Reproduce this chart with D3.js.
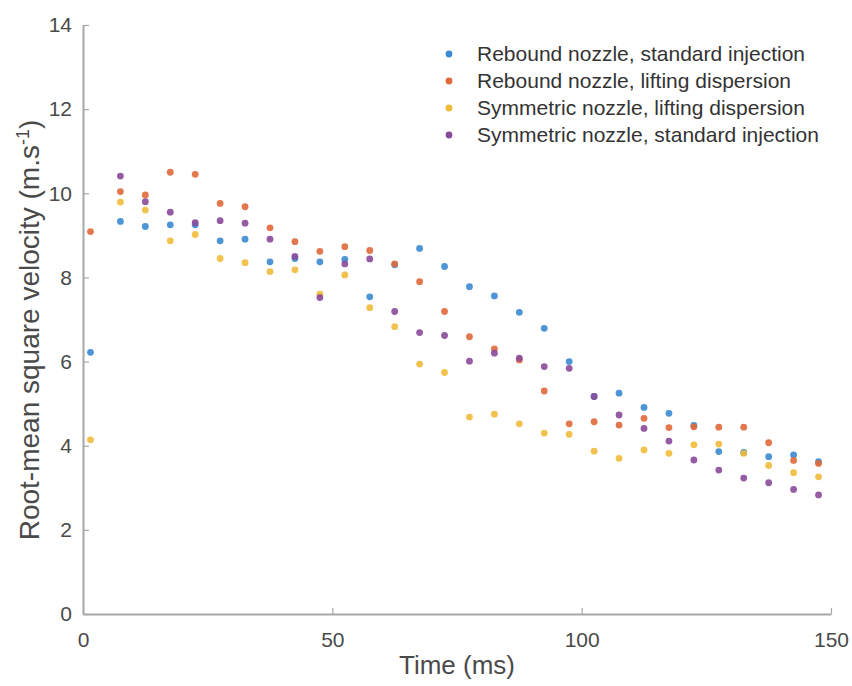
<!DOCTYPE html>
<html>
<head>
<meta charset="utf-8">
<script src="https://cdn.jsdelivr.net/npm/d3@7"></script>
<style>
  html, body { margin: 0; padding: 0; background: #fff; }
  svg { display: block; font-family: "Liberation Sans", Arial, sans-serif; }
</style>
</head>
<body>
<svg id="chart" width="852" height="686"></svg>
<script>
const times = [1.5, 7.5, 12.5, 17.5, 22.5, 27.5, 32.5, 37.5, 42.5, 47.5, 52.5, 57.5, 62.5, 67.5, 72.5,
               77.5, 82.5, 87.5, 92.5, 97.5, 102.5, 107.5, 112.5, 117.5, 122.5, 127.5, 132.5, 137.5, 142.5, 147.5];

const reboundStandard = [6.22, 9.33, 9.21, 9.25, 9.25, 8.87, 8.91, 8.37, 8.45, 8.37, 8.43, 7.54, 8.30, 8.69, 8.26,
                         7.78, 7.56, 7.17, 6.79, 6.00, 5.17, 5.25, 4.91, 4.77, 4.48, 3.86, 3.84, 3.74, 3.78, 3.62];
const reboundLifting  = [9.09, 10.04, 9.96, 10.50, 10.45, 9.76, 9.68, 9.18, 8.85, 8.62, 8.73, 8.64, 8.32, 7.90, 7.19,
                         6.59, 6.30, 6.04, 5.30, 4.52, 4.57, 4.49, 4.65, 4.43, 4.45, 4.44, 4.44, 4.07, 3.65, 3.58];
const symmetricLifting = [4.14, 9.79, 9.60, 8.87, 9.02, 8.45, 8.35, 8.14, 8.18, 7.60, 8.06, 7.28, 6.83, 5.94, 5.74,
                          4.68, 4.75, 4.52, 4.30, 4.27, 3.87, 3.70, 3.90, 3.82, 4.02, 4.04, 3.82, 3.53, 3.36, 3.26];
const symmetricStandard = [null, 10.41, 9.80, 9.55, 9.30, 9.35, 9.29, 8.91, 8.50, 7.52, 8.32, 8.44, 7.19, 6.69, 6.62,
                           6.01, 6.20, 6.08, 5.88, 5.84, 5.17, 4.73, 4.41, 4.11, 3.66, 3.42, 3.23, 3.12, 2.96, 2.83];

const seriesNames = ["Rebound nozzle, standard injection", "Rebound nozzle, lifting dispersion",
                     "Symmetric nozzle, lifting dispersion", "Symmetric nozzle, standard injection"];
const seriesValues = [reboundStandard, reboundLifting, symmetricLifting, symmetricStandard];
const seriesColors = ["#3a8ad0", "#e0683a", "#efbb3a", "#8a4a9a"];

const xTicks = [0, 50, 100, 150];
const yTicks = [0, 2, 4, 6, 8, 10, 12, 14];

const svg = d3.select("#chart");
const mLeft = 83, mRight = 831, mTop = 25, mBottom = 614;

const x = d3.scaleLinear().domain([0, 150]).range([mLeft, mRight]);
const y = d3.scaleLinear().domain([0, 14]).range([mBottom, mTop]);

const axisColor = "#a8a8a8";
const textColor = "#4a4a4a";

const gx = svg.append("g").attr("transform", `translate(0,${mBottom})`)
  .call(d3.axisBottom(x).tickValues(xTicks).tickSizeInner(-6).tickSizeOuter(0).tickPadding(18));
const gy = svg.append("g").attr("transform", `translate(${mLeft},0)`)
  .call(d3.axisLeft(y).tickValues(yTicks).tickSizeInner(-6).tickSizeOuter(0).tickPadding(11));

[gx, gy].forEach(g => {
  g.select(".domain").attr("stroke", axisColor).attr("stroke-width", 2);
  g.selectAll(".tick line").attr("stroke", axisColor).attr("stroke-width", 1.2);
  g.selectAll(".tick text").attr("fill", textColor).attr("font-size", 21)
    .attr("font-family", "Liberation Sans, Arial, sans-serif");
});

seriesValues.forEach((vals, si) => {
  svg.append("g").selectAll("circle")
    .data(times.map((t, i) => ({t, v: vals[i]})).filter(d => d.v !== null))
    .join("circle")
    .attr("cx", d => x(d.t))
    .attr("cy", d => y(d.v))
    .attr("r", 3.4)
    .attr("fill", seriesColors[si])
    .attr("opacity", 0.9);
});

svg.append("text")
  .attr("x", 457).attr("y", 674)
  .attr("text-anchor", "middle")
  .attr("fill", textColor).attr("font-size", 26)
  .text("Time (ms)");

const yl = svg.append("text")
  .attr("transform", `translate(39,330) rotate(-90)`)
  .attr("text-anchor", "middle")
  .attr("fill", textColor).attr("font-size", 28);
yl.append("tspan").text("Root-mean square velocity (m.s");
yl.append("tspan").attr("dy", -10).attr("font-size", 18).text("-1");
yl.append("tspan").attr("dy", 10).text(")");

const legend = svg.append("g");
seriesNames.forEach((name, i) => {
  const ly = 54 + i * 27;
  legend.append("circle").attr("cx", 449).attr("cy", ly).attr("r", 3.4).attr("fill", seriesColors[i]);
  legend.append("text").attr("x", 477).attr("y", ly).attr("dy", "0.35em")
    .attr("fill", "#333").attr("font-size", 21).text(name);
});
</script>
</body>
</html>
